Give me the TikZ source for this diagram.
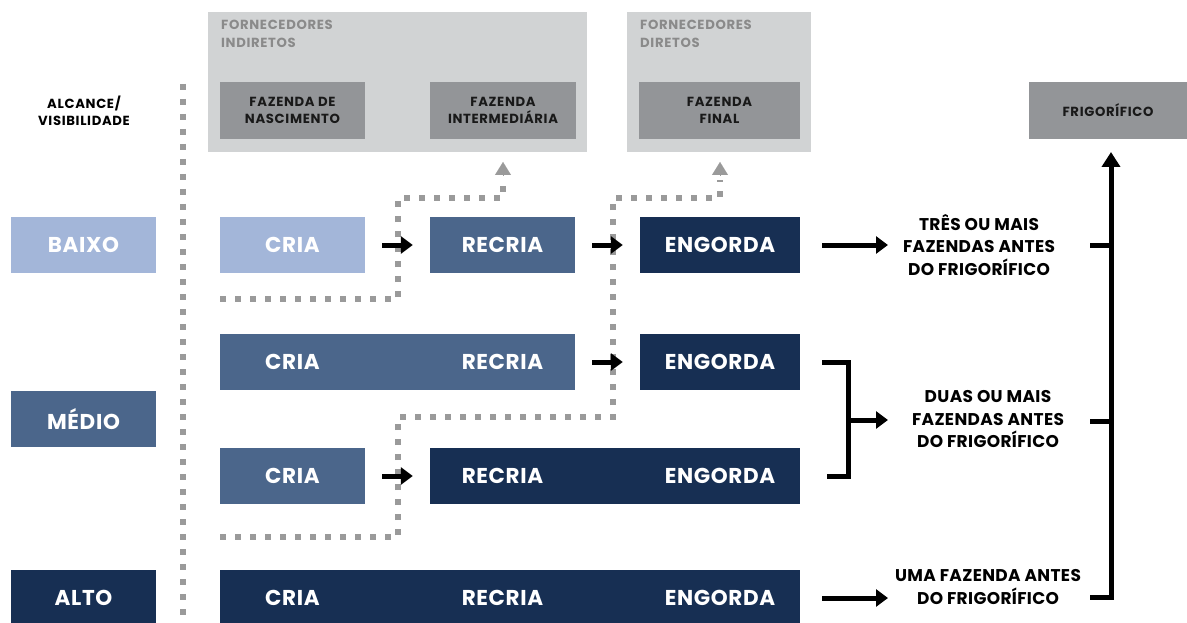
\documentclass[tikz,border=0pt]{standalone}
\usepackage{fontspec}
\setmainfont{Poppins}
\newfontfamily\fbigw[LetterSpace=3]{Poppins}
\newfontfamily\fsmallw[LetterSpace=5]{Poppins}
\newfontfamily\fmidw[LetterSpace=2]{Poppins}
\usetikzlibrary{arrows.meta}
\definecolor{lightblue}{HTML}{A3B6D9}
\definecolor{midblue}{HTML}{4B668B}
\definecolor{darkblue}{HTML}{172F53}
\definecolor{lightgray}{HTML}{D1D3D4}
\definecolor{boxgray}{HTML}{939598}
\definecolor{dotgray}{HTML}{9A9A9A}
\definecolor{headgray}{HTML}{8A8A8A}
\begin{document}
\begin{tikzpicture}[x=1pt,y=-1pt,
  blk/.style={rectangle, inner sep=0pt, minimum height=56pt, text=white, font=\fbigw\bfseries\fontsize{21.5}{21.5}\selectfont},
  blktxt/.style={inner sep=0pt, text=white, font=\fbigw\bfseries\fontsize{21.5}{21.5}\selectfont},
  gbox/.style={rectangle, inner sep=0pt, fill=boxgray, minimum height=57pt, align=center, text=black!90, font=\fsmallw\bfseries\fontsize{13.2}{16.5}\selectfont},
  head/.style={anchor=west, inner sep=0pt, align=left, text=headgray, font=\fsmallw\bfseries\fontsize{13.2}{18}\selectfont},
  rtxt/.style={align=center, inner sep=0pt, font=\fmidw\bfseries\fontsize{17}{22.5}\selectfont},
  fat/.style={line width=5pt, -{Triangle[length=12pt,width=17pt]}},
  thick5/.style={line width=5pt, line join=miter},
  dots/.style={draw=dotgray, line width=6pt, dash pattern=on 6pt off 9pt},
  grayarrow/.style={-{Triangle[length=13pt,width=16pt]}, draw=dotgray, fill=dotgray}
]
\useasboundingbox (0,0) rectangle (1187,623);

% header gray boxes
\node[rectangle, fill=lightgray, inner sep=0pt, minimum width=379pt, minimum height=140pt] (ind) at (397.5,82) {};
\node[rectangle, fill=lightgray, inner sep=0pt, minimum width=184pt, minimum height=140pt] (dir) at (719,82) {};
\node[head] (indlbl) at (221,33.5) {FORNECEDORES\\INDIRETOS};
\node[head] (dirlbl) at (640,33.5) {FORNECEDORES\\DIRETOS};
\node[gbox, minimum width=145pt] (fnasc) at (292.5,110.5) {FAZENDA DE\\NASCIMENTO};
\node[gbox, minimum width=146pt] (fint) at (503,110.5) {FAZENDA\\INTERMEDIÁRIA};
\node[gbox, minimum width=161pt] (ffin) at (719.5,110.5) {FAZENDA\\FINAL};
\node[gbox, minimum width=158pt] (frig) at (1108,110.5) {FRIGORÍFICO};

% left labels
\node[align=center, inner sep=0pt, font=\fsmallw\bfseries\fontsize{13.2}{16.5}\selectfont] (alc) at (84,111) {ALCANCE/\\VISIBILIDADE};
\node[blk, fill=lightblue, minimum width=145pt] (baixo) at (83.5,245) {BAIXO};
\node[blk, fill=midblue, minimum width=145pt] (medio) at (83.5,419) {MÉDIO};
\node[blk, fill=darkblue, minimum width=145pt] (alto) at (83.5,598) {ALTO};

% dotted vertical separator
\draw[dots] (183,84) -- (183,623);

% dotted paths
\draw[dots] (220,299) -- (398,299) -- (398,198) -- (503,198) -- (503,180);
\draw[dots] (220,537) -- (398,537) -- (398,417) -- (613,417) -- (613,198) -- (720,198) -- (720,180);
\coordinate (g1) at (503,162);
\coordinate (g2) at (720,162);
\draw[grayarrow, line width=0.1pt] (503,176) -- (g1);
\draw[grayarrow, line width=0.1pt] (720,176) -- (g2);

% row 1
\node[blk, fill=lightblue, minimum width=145pt] (r1c) at (292.5,245) {CRIA};
\node[blk, fill=midblue, minimum width=145pt] (r1r) at (502.5,245) {RECRIA};
\node[blk, fill=darkblue, minimum width=160pt] (r1e) at (720,245) {ENGORDA};
% row 2
\node[blk, fill=midblue, minimum width=355pt] (r2cr) at (397.5,362) {};
\node[blktxt] (r2c) at (292.5,362) {CRIA};
\node[blktxt] (r2r) at (502.5,362) {RECRIA};
\node[blk, fill=darkblue, minimum width=160pt] (r2e) at (720,362) {ENGORDA};
% row 3
\node[blk, fill=midblue, minimum width=145pt] (r3c) at (292.5,476) {CRIA};
\node[blk, fill=darkblue, minimum width=370pt] (r3re) at (615,476) {};
\node[blktxt] (r3r) at (502.5,476) {RECRIA};
\node[blktxt] (r3e) at (720,476) {ENGORDA};
% row 4
\node[blk, fill=darkblue, minimum width=580pt] (r4) at (510,598) {};
\node[blktxt] (r4c) at (292.5,598) {CRIA};
\node[blktxt] (r4r) at (502.5,598) {RECRIA};
\node[blktxt] (r4e) at (720,598) {ENGORDA};

% stage arrows
\draw[fat, shorten <=17pt, shorten >=17pt] (r1c.east) -- (r1r.west);
\draw[fat, shorten <=17pt, shorten >=17pt] (r1r.east) -- (r1e.west);
\draw[fat, shorten <=17pt, shorten >=17pt] (r2cr.east) -- (r2e.west);
\draw[fat, shorten <=17pt, shorten >=17pt] (r3c.east) -- (r3re.west);

% right texts
\node[rtxt] (t1) at (979,245) {TRÊS OU MAIS\\FAZENDAS ANTES\\DO FRIGORÍFICO};
\node[rtxt] (t2) at (988,419.5) {DUAS OU MAIS\\FAZENDAS ANTES\\DO FRIGORÍFICO};
\node[rtxt] (t3) at (988,587) {UMA FAZENDA ANTES\\DO FRIGORÍFICO};
\coordinate (a1) at (888,245);
\coordinate (a2) at (888,420);
\coordinate (a3) at (888,598);
\coordinate (bk) at (848,420);

\draw[fat, shorten <=22pt] (r1e.east) -- (a1);
\draw[fat, shorten <=22pt] (r4.east |- a3) -- (a3);
\draw[thick5] ([xshift=22pt]r2e.east) -| (bk) |- ([xshift=27pt]r3re.east);
\draw[fat] (bk) -- (a2);

% right collector
\coordinate (v0) at (1111,597);
\coordinate (v1) at (1111,245);
\coordinate (v2) at (1111,421);
\coordinate (vt) at (1111,152);
\draw[thick5] (1090,597) -- (v0);
\draw[line width=5pt, -{Triangle[length=15pt,width=18pt]}] ([yshift=-2.5pt]v0) -- (vt);
\draw[thick5] (1090,245) -- (v1);
\draw[thick5] (1090,421) -- (v2);
\end{tikzpicture}
\end{document}
